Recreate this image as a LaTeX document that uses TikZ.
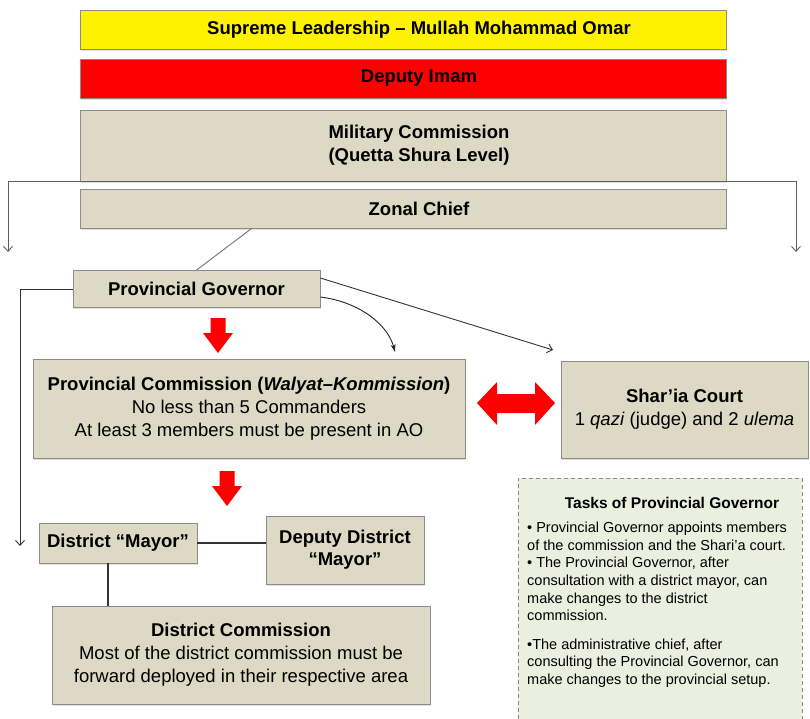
\documentclass[tikz,border=0pt]{standalone}
\usepackage{fontspec}
\setmainfont{Liberation Sans}
\usepackage{tikz}
\usetikzlibrary{arrows.meta,calc,shadows}

\definecolor{boxtan}{RGB}{221,217,196}
\definecolor{taskgreen}{RGB}{234,239,223}
\definecolor{linegray}{RGB}{95,95,95}

\begin{document}
\begin{tikzpicture}[x=1pt, y=-1pt,
        every node/.style = {shape=rectangle, align=center, inner sep=0pt},
        box/.style = {draw=black!45, fill=boxtan, line width=0.8pt,
                      font=\fontsize{18.5}{23}\selectfont,
                      drop shadow={shadow xshift=1pt, shadow yshift=-1.5pt, opacity=0.25}},
        band/.style = {box, minimum width=646pt, minimum height=39pt,
                       font=\fontsize{18.5}{23}\selectfont\bfseries},
        link/.style = {draw=black!80, line width=1.1pt},
        arr/.style = {draw=linegray, line width=0.9pt,
                      -{Straight Barb[length=5pt,width=9pt]}}]
    \clip (0,0) rectangle (810,718);

    \node[band, fill=yellow] (supreme) at (403,29.5) {\hspace*{32pt}Supreme Leadership – Mullah Mohammad Omar};
    \node[band, fill=red] (deputy) at (403,78.5) {\hspace*{32pt}Deputy Imam};
    \node[band, minimum height=71pt] (military) at (403,145.5)
        {\hspace*{32pt}Military Commission\\\hspace*{32pt}(Quetta Shura Level)};
    \node[band] (zonal) at (403,208.5) {\hspace*{32pt}Zonal Chief};

    \node[box, font=\fontsize{18.5}{23}\selectfont\bfseries,
          minimum width=247pt, minimum height=37pt] (pg) at (196.5,289) {Provincial Governor};
    \node[box, minimum width=432pt, minimum height=99pt] (pcom) at (249,408.5)
        {\textbf{Provincial Commission (\textit{Walyat–Kommission})}\\
         No less than 5 Commanders\\At least 3 members must be present in AO};
    \node[box, minimum width=247pt, minimum height=97pt] (court) at (684.5,409.5)
        {{\bfseries Shar’ia Court}\\1 \textit{qazi} (judge) and 2 \textit{ulema}};

    \node[box, font=\fontsize{18.5}{23}\selectfont\bfseries,
          minimum width=158pt, minimum height=40pt] (dmayor) at (118,543) {District “Mayor”};
    \node[box, font=\fontsize{18.5}{22}\selectfont\bfseries,
          minimum width=158pt, minimum height=68pt] (ddeputy) at (345,550) {Deputy District\\“Mayor”};
    \node[box, minimum width=378pt, minimum height=98pt] (dcom) at (241,655)
        {{\bfseries District Commission}\\Most of the district commission must be\\forward deployed in their respective area};

    \node[draw=black!45, dashed, dash pattern=on 4pt off 3pt, fill=taskgreen,
          minimum width=284pt, minimum height=252pt] (tasks) at (660,604) {};
    \node[font=\fontsize{15.5}{18}\selectfont\bfseries] (taskshead) at (672,503) {Tasks of Provincial Governor};
    \node[anchor=north west, align=left, font=\fontsize{14.5}{17.6}\selectfont] (tasksbody) at (527,522)
        {• Provincial Governor appoints members\\
         of the commission and the Shari’a court.\\
         • The Provincial Governor, after\\
         consultation with a district mayor, can\\
         make changes to the district\\
         commission.\\[11pt]
         •The administrative chief, after\\
         consulting the Provincial Governor, can\\
         make changes to the provincial setup.};

    \coordinate (lend) at (8,252);
    \coordinate (rend) at (796,252);
    \coordinate (dleft) at (20,546);
    \coordinate (pctip) at (395,352);
    \coordinate (crtip) at (553,350);

    \draw[arr] (military.south) -| (lend);
    \draw[arr] (military.south) -| (rend);
    \draw[draw=black!55, line width=0.9pt] ($(zonal.south west)!0.266!(zonal.south east)$) -- (pg.north);
    \draw[arr, draw=black!80] (pg.west) -| (dleft);
    \draw[draw=black!85, line width=0.9pt, -{Stealth[length=8pt,width=5pt]}]
        ($(pg.east)+(0,8)$) .. controls (360,302) and (388,325) .. (pctip);
    \draw[arr, draw=black!80] ($(pg.east)+(0,-11)$) -- (crtip);

    \draw[link] (dmayor.east) -- (dmayor.east -| ddeputy.west);
    \draw[link] ([xshift=-10pt]dmayor.south) -- ([xshift=-10pt]dmayor.south |- dcom.north);

    \foreach \cx/\cy in {218/318, 227/471}
        \fill[red] (\cx-7.5,\cy) -- (\cx+7.5,\cy) -- (\cx+7.5,\cy+15) -- (\cx+15,\cy+15)
            -- (\cx,\cy+35) -- (\cx-15,\cy+15) -- (\cx-7.5,\cy+15) -- cycle;
    \fill[red] (477,403) -- (497,382) -- (497,394) -- (535,394) -- (535,382) -- (555,403)
        -- (535,425) -- (535,413) -- (497,413) -- (497,425) -- cycle;
\end{tikzpicture}
\end{document}
